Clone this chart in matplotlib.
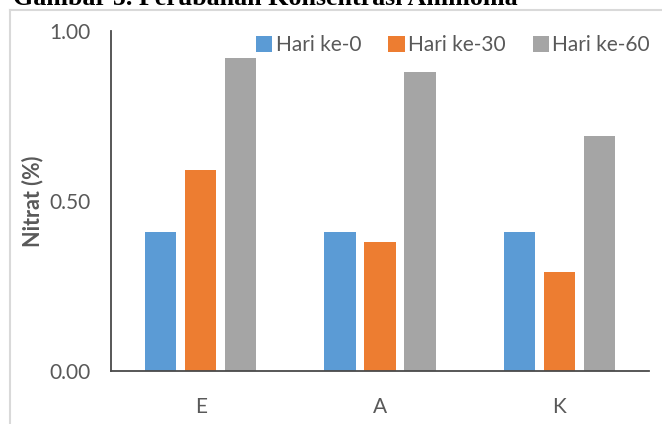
import matplotlib
matplotlib.use("Agg")
import matplotlib.pyplot as plt
from matplotlib.lines import Line2D
import numpy as np

kategori = ["E", "A", "K"]
hari_0 = [0.41, 0.41, 0.41]
hari_30 = [0.59, 0.38, 0.29]
hari_60 = [0.92, 0.88, 0.69]
seri = ["Hari ke-0", "Hari ke-30", "Hari ke-60"]
warna = ["#5B9BD5", "#ED7D31", "#A5A5A5"]
yticks = [0.0, 0.5, 1.0]

plt.rcParams["font.family"] = ["Lato", "DejaVu Sans"]
abu = "#595959"

fig = plt.figure(figsize=(6.62, 4.24), dpi=100)
ax = fig.add_axes([111/662, 1-371/424, 538/662, 340/424])

x = np.arange(len(kategori))
lebar = 0.173; geser = 0.223
for i, (nilai, nama, c) in enumerate(zip([hari_0, hari_30, hari_60], seri, warna)):
    ax.bar(x + (i-1)*geser, nilai, lebar, color=c, label=nama)

ax.set_xlim(-0.5, 2.5); ax.set_ylim(0, 1.0)
ax.set_xticks(x); ax.set_xticklabels(kategori)
ax.set_yticks(yticks); ax.set_yticklabels([f"{v:.2f}" for v in yticks])
ax.tick_params(length=0, labelsize=15, labelcolor=abu)
ax.tick_params(axis="x", pad=19); ax.tick_params(axis="y", pad=15)
for s in ("top", "right"): ax.spines[s].set_visible(False)
for s in ("left", "bottom"):
    ax.spines[s].set_color("#4a4a4a"); ax.spines[s].set_linewidth(1.3)

fig.text(33/662, 1-201/424, "Nitrat (%)", rotation=90, ha="center", va="center",
         fontsize=15.5, fontweight="bold", color=abu)

ax.legend(loc="center right", bbox_to_anchor=(650/662, 1-45/424), bbox_transform=fig.transFigure,
          ncol=3, frameon=False, fontsize=15, labelcolor=abu, handlelength=0.8, handleheight=0.8,
          handletextpad=0.15, columnspacing=1.3, borderpad=0, borderaxespad=0)

# bingkai abu-abu
fig.add_artist(Line2D([10/662, 1], [1-10/424]*2, color="#D9D9D9", lw=1.5, transform=fig.transFigure))
fig.add_artist(Line2D([10/662]*2, [0, 1-10/424], color="#D9D9D9", lw=1.5, transform=fig.transFigure))

fig.text(13/662, 1-5/424, "Gambar 5. Perubahan Konsentrasi Ammonia", ha="left", va="baseline",
         fontsize=18.7, fontweight="bold", family="Liberation Serif", color="black")

fig.savefig("out.png", dpi=100)
